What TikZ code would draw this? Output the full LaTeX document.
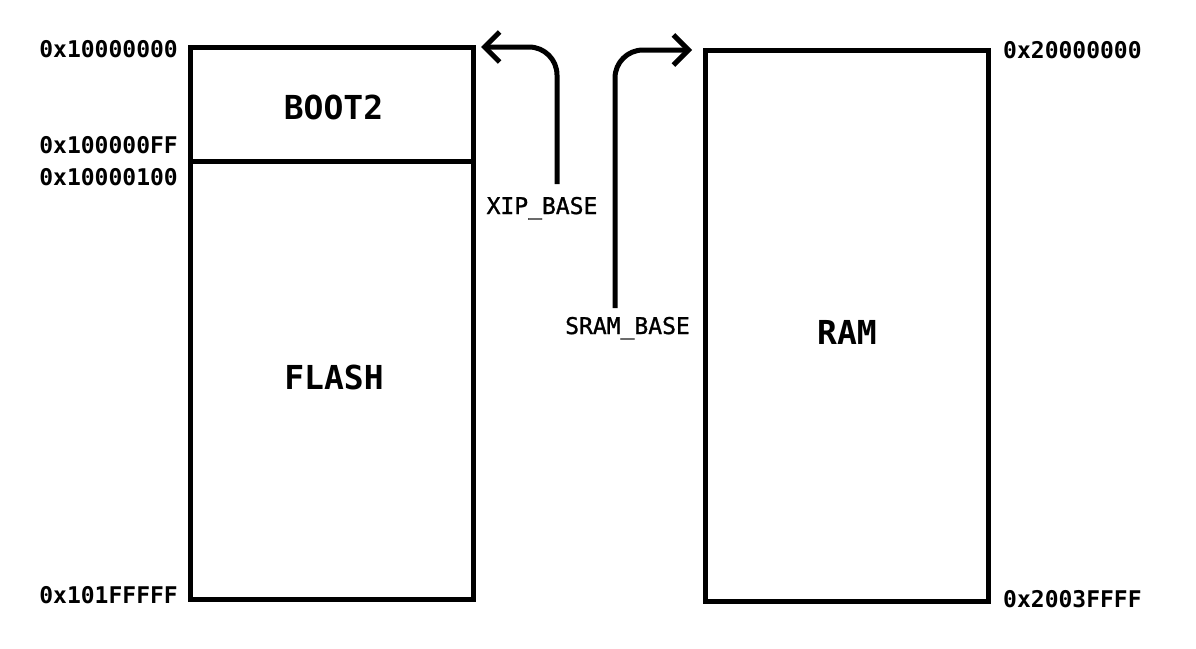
\documentclass[tikz,border=0pt]{standalone}
\usepackage{fontspec}
\newfontfamily\mono{DejaVu Sans Mono}
\newfontfamily\monomed[FakeBold=1.2]{DejaVu Sans Mono}
\usetikzlibrary{arrows.meta}
\begin{document}
\begin{tikzpicture}[x=1pt,y=-1pt,
  mem/.style={draw, line width=5pt, inner sep=0pt, outer sep=0pt},
  addr/.style={font=\mono\bfseries\fontsize{23}{23}\selectfont, inner sep=0pt},
  region/.style={font=\mono\bfseries\fontsize{33}{33}\selectfont, inner sep=0pt},
  baselbl/.style={font=\monomed\fontsize{23}{23}\selectfont, inner sep=0pt, anchor=base},
  conn/.style={line width=5pt, rounded corners=28pt,
    -{Straight Barb[length=15pt,width=30pt,line width=5pt]}}
]
\useasboundingbox (0,0) rectangle (1196,648);
% memory blocks
\node[mem, minimum width=283pt, minimum height=552pt] (flash) at (332,323) {};
\node[mem, minimum width=283pt, minimum height=551pt] (ram) at (846.5,325.5) {};
\coordinate (divy) at (0,161);
\draw[line width=5pt] (flash.west |- divy) -- (flash.east |- divy);
% region names
\node[region] (boot) at (333.5,107.5) {BOOT2};
\node[region] (flashlbl) at (334,377) {FLASH};
\node[region] (ramlbl) at (847,332) {RAM};
% addresses
\node[addr, anchor=east] (a1) at (178,49) {0x10000000};
\node[addr, anchor=east] (a2) at (178,145.5) {0x100000FF};
\node[addr, anchor=east] (a3) at (178,177) {0x10000100};
\node[addr, anchor=east] (a4) at (178,595.5) {0x101FFFFF};
\node[addr, anchor=west] (a5) at (1003,50.5) {0x20000000};
\node[addr, anchor=west] (a6) at (1003,599.5) {0x2003FFFF};
% base labels
\node[baselbl] (xip) at (542,214) {XIP\_BASE};
\node[baselbl] (sram) at (627.5,334) {SRAM\_BASE};
% connectors
\coordinate (xipstart) at (557,184);
\coordinate (xipcorner) at (557,47);
\coordinate (xiptip) at (481,47);
\coordinate (sramstart) at (615,308);
\coordinate (sramcorner) at (615,50);
\coordinate (sramtip) at (692,50);
\draw[conn] (xipstart) -- (xipcorner) -- (xiptip);
\draw[conn] (sramstart) -- (sramcorner) -- (sramtip);
\end{tikzpicture}
\end{document}
